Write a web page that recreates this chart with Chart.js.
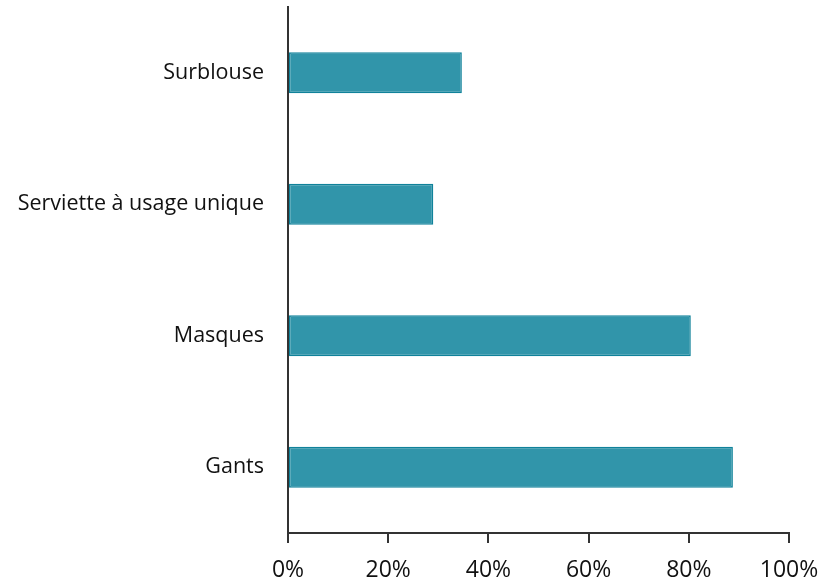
<!DOCTYPE html>
<html>
<head>
<meta charset="utf-8">
<script src="https://cdn.jsdelivr.net/npm/chart.js@4"></script>
<style>
html,body{margin:0;padding:0;background:#fff;}
#wrap{width:838px;height:580px;position:relative;}
</style>
</head>
<body>
<div id="wrap"><canvas id="c" width="838" height="580"></canvas></div>
<script>
const categories = ["Surblouse", "Serviette à usage unique", "Masques", "Gants"];
const values = [34.7, 29, 80.4, 88.8];
const xTicks = [0, 20, 40, 60, 80, 100];

const fontFam = "'Open Sans', 'Noto Sans', sans-serif";
new Chart(document.getElementById('c'), {
  type: 'bar',
  data: {
    labels: categories,
    datasets: [{
      data: values,
      backgroundColor: '#3195AA',
      borderColor: '#10829A',
      borderWidth: 1.5,
      borderSkipped: false,
      categoryPercentage: 1,
      barPercentage: 0.31
    }]
  },
  options: {
    indexAxis: 'y',
    responsive: false,
    animation: false,
    layout: { padding: { top: 7, right: 49, bottom: 0, left: 0 } },
    plugins: { legend: { display: false }, tooltip: { enabled: false } },
    scales: {
      x: {
        min: 0, max: 100,
        afterBuildTicks: (s) => { s.ticks = xTicks.map(v => ({ value: v })); },
        afterFit: (s) => { s.height = 47; s.paddingLeft = 0; s.paddingRight = 0; },
        ticks: {
          callback: (v) => v + '%',
          color: '#111',
          font: { family: fontFam, size: 23 },
          padding: 14,
          maxRotation: 0
        },
        grid: { drawOnChartArea: false, drawTicks: true, tickLength: 10, color: '#333', lineWidth: 2 },
        border: { display: true, color: '#333', width: 2 }
      },
      y: {
        afterFit: (s) => { s.width = 288; s.paddingTop = 0; s.paddingBottom = 0; },
        ticks: {
          color: '#111',
          font: { family: fontFam, size: 21.5 },
          padding: 0
        },
        grid: { drawOnChartArea: false, drawTicks: true, tickLength: 24, color: 'rgba(0,0,0,0)' },
        border: { display: true, color: '#333', width: 2 }
      }
    }
  }
});
</script>
</body>
</html>
